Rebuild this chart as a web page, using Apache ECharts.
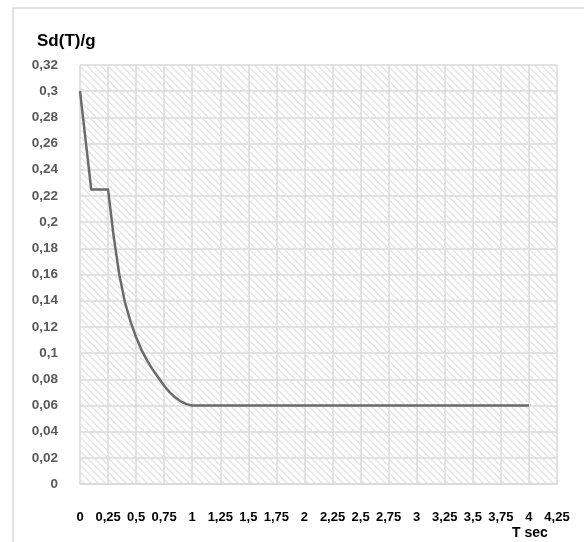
<!DOCTYPE html>
<html>
<head>
<meta charset="utf-8">
<script src="https://cdn.jsdelivr.net/npm/echarts@6/dist/echarts.min.js"></script>
<style>html,body{margin:0;padding:0;background:#fff}#c{width:584px;height:542px}</style>
</head>
<body>
<div id="c"></div>
<script>
// Period T (sec)
const periods = [0, 0.1, 0.25, 0.3, 0.35, 0.4, 0.45, 0.5, 0.55, 0.6, 0.65, 0.7, 0.75, 0.8, 0.85, 0.9, 0.95, 1.0, 1.5, 2.0, 2.5, 3.0, 3.5, 4.0];
// Sd(T)/g values
const sdValues = [0.3, 0.225, 0.225, 0.189, 0.160, 0.139, 0.124, 0.112, 0.102, 0.094, 0.087, 0.081, 0.075, 0.070, 0.066, 0.063, 0.061, 0.06, 0.06, 0.06, 0.06, 0.06, 0.06, 0.06];
const yTitle = 'Sd(T)/g';
const xTitle = 'T sec';

const font = 'Liberation Sans, Arial, sans-serif';
const fmt = v => String(+v.toFixed(2)).replace('.', ',');

// hatch pattern
const pc = document.createElement('canvas');
pc.width = 7; pc.height = 7;
const g = pc.getContext('2d');
g.strokeStyle = '#e2e2e2';
g.lineWidth = 1.3;
g.beginPath();
g.moveTo(-1, -1); g.lineTo(8, 8);
g.moveTo(-1, 6); g.lineTo(1, 8);
g.moveTo(6, -1); g.lineTo(8, 1);
g.stroke();

const chart = echarts.init(document.getElementById('c'));
chart.setOption({
  animation: false,
  backgroundColor: '#fff',
  grid: { left: 80, right: 27, top: 65, bottom: 58 },
  graphic: [
    { type: 'rect', shape: { x: 13, y: 8, width: 620, height: 600 }, style: { fill: 'none', stroke: '#d9d9d9', lineWidth: 1.5 }, z: -10 },
    { type: 'text', left: 37, top: 33, style: { text: yTitle, font: 'bold 17px ' + font, fill: '#000' } },
    { type: 'text', x: 530, y: 533, style: { text: xTitle, font: 'bold 14px ' + font, fill: '#000', align: 'center', verticalAlign: 'middle' } }
  ],
  xAxis: {
    type: 'value', min: 0, max: 4.25, interval: 0.25,
    axisLine: { show: true, lineStyle: { color: '#d9d9d9', width: 1.5 } },
    axisTick: { show: false },
    splitLine: { show: true, lineStyle: { color: '#d9d9d9', width: 1.5 } },
    axisLabel: { margin: 27, color: '#000', fontWeight: 'bold', fontSize: 13, fontFamily: font, formatter: fmt, showMinLabel: true, showMaxLabel: true }
  },
  yAxis: {
    type: 'value', min: 0, max: 0.32, interval: 0.02,
    axisLine: { show: false },
    axisTick: { show: false },
    splitLine: { show: true, lineStyle: { color: '#d9d9d9', width: 1.5 } },
    axisLabel: { margin: 22, color: '#595959', fontWeight: 'bold', fontSize: 13.5, fontFamily: font, formatter: fmt }
  },
  series: [{
    type: 'line',
    data: periods.map((t, i) => [t, sdValues[i]]),
    showSymbol: false,
    smooth: false,
    lineStyle: { color: '#6b6b6b', width: 2.5, join: 'round' },
    markArea: {
      silent: true,
      itemStyle: { color: { image: pc, repeat: 'repeat' } },
      data: [[{ coord: [0, 0] }, { coord: [4.25, 0.32] }]]
    },
    z: 3
  }]
});
</script>
</body>
</html>
